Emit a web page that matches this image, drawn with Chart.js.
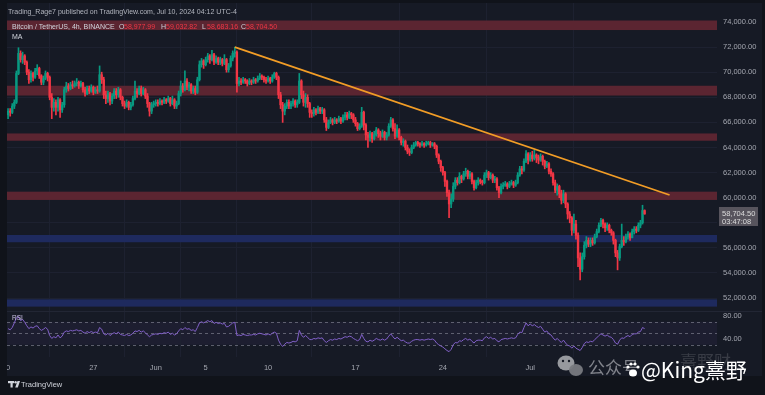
<!DOCTYPE html>
<html><head><meta charset="utf-8">
<script src="https://cdn.jsdelivr.net/npm/chart.js@4.4.1/dist/chart.umd.min.js"></script>
<style>html,body{margin:0;padding:0;background:#10131a;overflow:hidden}#wrap{position:relative;width:765px;height:395px}</style>
</head><body><div id="wrap"><canvas id="c" width="765" height="395"></canvas></div>
<script>
// ---------- DATA (BTC/USDT 4h) ----------
const firstOpen = 66600;
const closes = [
66900,66800,67300,67600,69900,71500,71000,71300,70800,70000,
69400,69900,69600,70100,70300,69700,69200,69500,69900,69600,
68000,67200,67600,67200,67800,67000,67400,68600,68900,68700,
69000,68900,69100,69200,68900,69100,68600,68300,68700,68500,
68800,68400,68600,68500,69800,69400,68200,67900,68300,67700,
68100,68500,68200,68600,68000,67500,67300,67600,67200,67400,
67900,68500,68300,68700,68300,68600,68100,67500,66900,67400,
67500,67600,67500,67700,67600,67800,67700,67900,67500,67800,
67300,67500,68300,68900,68600,69300,68800,69000,68500,68700,
68400,69400,70600,70900,70600,71000,71300,71000,71400,70800,
71100,70800,71000,70700,71000,70200,70500,71100,71500,71600,
69100,69300,69200,69400,69300,69100,69300,69200,69400,69300,
69500,69700,69600,69400,69300,69500,69300,69600,69900,69600,
68200,67400,66900,67300,67600,67300,67500,67700,67400,67600,
69300,68200,67600,68000,67500,66800,66700,67000,66800,67100,
66900,67000,66200,65600,66000,66200,66000,66200,66100,66300,
66100,66400,66600,66400,66700,66600,66200,65900,65500,65700,
66800,65800,65000,64800,65100,64700,65000,65400,65100,64900,
65200,64800,65000,65700,66200,65500,64900,65400,64800,64400,
64500,64000,63700,63600,64000,64200,64400,64300,64200,64300,
64200,64300,64400,64200,64300,64100,63400,62900,62400,62000,
61300,60400,59500,59900,60900,61400,61200,61700,61500,61900,
62100,61700,61900,61300,60800,61200,61400,61300,61200,61800,
62000,61600,61800,61400,61500,60800,60400,60900,61000,61100,
60900,61100,61200,61000,61200,61800,62300,62200,62900,63500,
63000,63400,63100,63400,63200,63000,63300,62900,62500,62700,
62100,61900,61200,60600,60900,60300,59800,60300,59500,58700,
58400,57400,57900,57000,55200,54300,55300,56200,56600,56300,
56600,56400,56900,57300,57800,58200,57900,57600,57800,57400,
57200,56600,55600,55200,56100,56600,56500,56900,57100,56800,
57300,57500,57400,57800,58000,58977.99,58704.50];
const highs = [
67100,67100,67500,67800,70100,71950,71700,71600,71400,70900,
70200,70100,70000,70300,70600,70400,69800,69700,70100,70000,
69700,68300,67900,67800,68000,67900,67600,68800,69200,69100,
69200,69300,69300,69500,69300,69300,69200,68800,68900,68900,
69000,68900,68800,68900,70500,70000,69600,68500,68500,68400,
68300,68700,68700,68800,68700,68100,67700,67800,67700,67600,
68100,69300,68700,68900,68900,68800,68700,68300,67600,67600,
67700,67800,67800,67900,67800,68000,67900,68100,68000,68100,
67900,67700,68500,69300,69100,70100,69500,69200,69100,68900,
68900,69600,70900,71100,71000,71200,71500,71400,71750,71500,
71300,71200,71200,71100,71400,71100,70700,71300,71700,72000,
71700,69600,69500,69600,69500,69400,69500,69400,69600,69500,
69700,69900,69800,69700,69600,69700,69600,69800,70000,70000,
69700,68400,67600,67500,67800,67800,67700,67900,67800,67800,
69900,69400,68500,68300,68200,67600,67000,67200,67100,67300,
67200,67200,67100,66400,66200,66400,66300,66400,66300,66500,
66400,66600,66800,66800,66900,66800,66700,66400,66000,65900,
67200,66900,65900,65200,65300,65200,65300,65600,65500,65300,
65400,65300,65200,65900,66400,66300,65900,65800,65500,64900,
64700,64600,64200,63900,64200,64400,64500,64500,64400,64500,
64400,64500,64500,64500,64400,64400,64200,63500,63000,62500,
62100,61400,60600,60300,61200,61600,61600,62000,61800,62100,
62350,62200,62100,62000,61400,61400,61600,61500,61400,62000,
62200,62100,62000,61900,61700,61600,60900,61100,61200,61300,
61200,61300,61400,61300,61400,62000,62500,62500,63100,63760,
63600,63600,63700,63800,63500,63400,63500,63400,63000,62900,
62800,62300,62000,61400,61100,61000,60600,60600,60400,59600,
58900,58500,58700,58200,57200,55600,55600,56500,56900,56800,
56800,56800,57100,57500,58000,58360,58300,58000,58000,57900,
57500,57300,56700,55800,56300,57900,56900,57100,57300,57200,
57500,57700,57700,58000,58200,59400,59032.82];
const lows = [
66300,66500,66700,67100,67500,69800,70800,70700,70600,69800,
69100,69200,69300,69500,69800,69500,69000,69000,69400,69300,
67800,66300,66900,66600,66900,66400,66800,67200,68400,68500,
68600,68700,68800,68900,68700,68800,68400,68100,68200,68300,
68400,68200,68300,68300,68400,69100,67900,67500,67600,67400,
67500,67900,67900,68000,67800,67300,67100,67200,67000,67000,
67300,67800,68000,68200,68100,68200,67900,67200,66500,66700,
67200,67300,67300,67400,67400,67500,67500,67600,67300,67400,
67100,67100,67400,68100,68400,68500,68600,68500,68300,68300,
68200,68300,69300,70400,70300,70500,70800,70700,70900,70600,
70700,70600,70600,70500,70600,70000,70000,70400,70900,71200,
68400,68900,69000,69100,69100,68900,69000,69000,69100,69100,
69200,69400,69400,69200,69100,69200,69100,69200,69500,69400,
67900,67100,66000,66600,67100,67100,67100,67300,67200,67200,
67500,67900,67300,67200,67200,66400,66400,66500,66600,66700,
66700,66700,66000,65350,65500,65900,65800,65900,65900,66000,
65900,66000,66200,66200,66300,66300,66000,65700,65350,65400,
65600,65400,64600,64000,64500,64400,64600,64900,64800,64600,
64800,64600,64600,64900,65600,65300,64700,64800,64600,64200,
64100,63800,63500,63360,63500,63900,64100,64100,64000,64100,
64000,64100,64200,64000,64100,63900,63200,62700,62100,61800,
60900,60100,58400,59200,59700,60700,61000,61100,61200,61400,
61700,61500,61500,61100,60600,60700,61000,61100,61000,61100,
61600,61400,61500,61200,61200,60600,60000,60300,60700,60900,
60700,60800,61000,60800,60900,61100,61700,61900,62100,62800,
62700,62900,62900,63000,62800,62700,62900,62600,62300,62400,
61900,61700,61000,60400,60200,60000,59500,59600,59200,58300,
58000,57000,57200,56700,54500,53450,54100,55100,56000,56100,
56100,56200,56300,56800,57200,57700,57600,57300,57400,57200,
57000,56300,55300,54250,55000,56000,56200,56400,56700,56600,
56900,57100,57200,57300,57600,57900,58683.16];
const rsiValues = [
58,56,60,68,77,79,72,74,69,63, 58,61,59,62,63,58,55,57,60,57,
46,41,44,42,47,42,45,52,54,53, 55,54,55,56,54,55,52,50,53,51,
53,51,52,51,60,57,49,47,50,46, 49,51,49,52,48,47,46,48,46,47,
50,54,53,55,52,54,51,47,44,47, 48,49,48,50,49,51,50,52,48,50,
47,49,54,58,56,60,57,58,55,56, 53,60,68,70,68,70,72,70,72,67,
69,67,68,66,67,61,62,65,68,69, 46,47,46,48,47,46,47,47,48,47,
49,50,49,48,47,49,47,50,52,50, 38,31,27,31,34,33,34,36,35,37,
55,47,43,46,43,39,39,41,40,42, 41,42,37,34,37,39,38,40,39,41,
40,42,44,43,45,44,41,39,37,39, 48,41,36,35,38,36,38,41,39,38,
40,38,40,45,49,44,40,43,40,37, 38,35,33,33,36,38,39,39,38,39,
38,39,40,39,40,38,33,30,28,26, 23,20,18,22,30,34,33,37,36,39,
41,38,40,36,33,37,38,38,37,42, 44,41,43,40,41,37,35,39,40,41,
40,41,42,41,42,48,52,51,60,68, 63,66,63,65,62,60,62,57,52,54,
49,47,42,38,41,37,34,38,33,29, 28,24,28,24,22,20,25,32,35,34,
36,35,39,42,46,49,47,45,47,44, 43,39,33,31,38,42,41,44,46,44,
48,49,49,52,53,60,58];
const dayTickIdx = [0, 42, 72, 96, 126, 168, 210, 252];
const dayTickLabels = ['20', '27', 'Jun', '5', '10', '17', '24', 'Jul'];
const priceTicks = [52000,54000,56000,58000,60000,62000,64000,66000,68000,70000,72000,74000];
const rsiTicks = [40, 80];
const rsiLevels = [70, 50, 30];
const redBands = [[73360,74120],[68140,68920],[64540,65120],[59820,60480]];
const blueBands = [[56450,57030],[51320,51900]];
const trendline = [{x:110, y:72000},{x:319, y:60220}];
const header = {symbol:'Bitcoin / TetherUS, 4h, BINANCE', o:'58,977.99', h:'59,032.82', l:'58,683.16', c:'58,704.50'};
const countdown = '03:47:08';

// ---------- build ----------
const UP = '#089981', DOWN = '#f23645';
const opens = closes.map((c,k) => k === 0 ? firstOpen : closes[k-1]);
const colors = closes.map((c,k) => c >= opens[k] ? UP : DOWN);
const wickData = closes.map((c,k) => ({x:k+1, y:[lows[k], highs[k]]}));
const bodyData = closes.map((c,k) => ({x:k+1, y:[opens[k], c]}));
const rsiData = rsiValues.map((v,k) => ({x:k+1, y:v}));

const FONT = '"Liberation Sans", Arial, sans-serif';

const deco = {
  id:'deco',
  beforeDraw(chart){
    const {ctx, chartArea:a} = chart;
    ctx.save();
    ctx.fillStyle = '#161a25';
    ctx.fillRect(0,0,765,395);
    const yr = chart.scales.yr;
    ctx.fillStyle = 'rgba(126,87,194,0.07)';
    const t = yr.getPixelForValue(70), b = yr.getPixelForValue(30);
    ctx.fillRect(a.left, t, a.right-a.left, b-t);
    ctx.restore();
  },
  beforeDatasetsDraw(chart){
    const {ctx, chartArea:a} = chart;
    const y = chart.scales.y, yr = chart.scales.yr;
    ctx.save();
    ctx.fillStyle = '#5b2531';
    for (const [lo,hi] of redBands){ const t=y.getPixelForValue(hi), b=y.getPixelForValue(lo); ctx.fillRect(a.left,t,a.right-a.left,b-t); }
    ctx.fillStyle = '#1e2a5e';
    for (const [lo,hi] of blueBands){ const t=y.getPixelForValue(hi), b=y.getPixelForValue(lo); ctx.fillRect(a.left,t,a.right-a.left,b-t); }
    ctx.strokeStyle = 'rgba(150,152,165,0.55)';
    ctx.lineWidth = 1;
    ctx.setLineDash([3,3]);
    for (const v of rsiLevels){ const p = Math.round(yr.getPixelForValue(v))+0.5; ctx.beginPath(); ctx.moveTo(a.left,p); ctx.lineTo(a.right,p); ctx.stroke(); }
    ctx.setLineDash([]);
    ctx.restore();
  },
  afterDraw(chart){
    const {ctx, chartArea:a} = chart;
    const y = chart.scales.y, yr = chart.scales.yr;
    ctx.save();
    // pane separator
    ctx.fillStyle = '#222634';
    ctx.fillRect(a.left, Math.round(yr.top), 765-a.left, 1);
    // frame
    ctx.fillStyle = '#10131a';
    ctx.fillRect(0,0,7,395);
    ctx.fillRect(0,0,765,3);
    ctx.fillRect(762,0,3,395);
    ctx.fillRect(0,376,765,19);
    // header
    ctx.textBaseline = 'middle';
    ctx.font = '7px ' + FONT;
    ctx.fillStyle = '#b2b5be';
    ctx.fillText('Trading_Rage7 published on TradingView.com, Jul 10, 2024 04:12 UTC-4', 8, 12);
    ctx.fillStyle = '#d1d4dc';
    ctx.fillText(header.symbol, 12, 27);
    const parts = [['O',119,header.o],['H',161,header.h],['L',202,header.l],['C',241,header.c]];
    for (const [k,x,v] of parts){
      ctx.fillStyle = '#d1d4dc'; ctx.fillText(k, x, 27);
      ctx.fillStyle = '#f23645'; ctx.fillText(v, x+5, 27);
    }
    ctx.fillStyle = '#d1d4dc';
    ctx.fillText('MA', 12, 37);
    ctx.font = '6.5px ' + FONT;
    ctx.fillStyle = '#c8bfe0';
    ctx.fillText('RSI', 12, 318);
    // last price label
    const ly = y.getPixelForValue(closes[closes.length-1]);
    ctx.fillStyle = '#57545d';
    ctx.fillRect(719, Math.round(ly)-7, 39, 19);
    ctx.fillStyle = '#dcdcdc';
    ctx.font = '7.5px ' + FONT;
    ctx.fillText('58,704.50', 722, ly);
    ctx.fillText(countdown, 722, ly+8);
    // TradingView logo
    ctx.fillStyle = '#d1d4dc';
    ctx.fillRect(8,381,6,2.2);
    ctx.fillRect(10.5,381,2.2,6.5);
    ctx.beginPath(); ctx.arc(15.6,382.2,1.2,0,Math.PI*2); ctx.fill();
    ctx.beginPath(); ctx.moveTo(17.5,381); ctx.lineTo(20,381); ctx.lineTo(17.8,387.5); ctx.lineTo(15.2,387.5); ctx.closePath(); ctx.fill();
    ctx.font = '7.5px ' + FONT;
    ctx.fillText('TradingView', 21, 384.5);
    // watermark
    ctx.fillStyle = 'rgba(165,167,172,0.9)';
    ctx.beginPath(); ctx.ellipse(566,363,8.5,7.5,0,0,Math.PI*2); ctx.fill();
    ctx.fillStyle = 'rgba(120,122,128,0.95)';
    ctx.beginPath(); ctx.ellipse(576,370,7,6,0,0,Math.PI*2); ctx.fill();
    ctx.fillStyle = '#161a25';
    ctx.beginPath(); ctx.arc(563,361,1.2,0,Math.PI*2); ctx.arc(569,361,1.2,0,Math.PI*2); ctx.fill();
    ctx.font = '17px "Noto Sans CJK SC", sans-serif';
    ctx.fillStyle = 'rgba(175,177,182,0.7)';
    ctx.fillText('公众号', 588, 368);
    ctx.fillStyle = 'rgba(120,122,128,0.35)';
    ctx.fillText('熹野财', 680, 362);
    ctx.fillStyle = '#ffffff';
    ctx.beginPath(); ctx.ellipse(633,373,4,3.5,0,0,Math.PI*2); ctx.fill();
    for (const [px,py] of [[628,367],[631,364],[635,364],[638,367]]){ ctx.beginPath(); ctx.arc(px,py,1.6,0,Math.PI*2); ctx.fill(); }
    ctx.font = '21px "Noto Sans CJK SC", sans-serif';
    ctx.fillText('@King熹野', 641, 370);
    ctx.restore();
  }
};

new Chart(document.getElementById('c'), {
  type:'bar',
  data:{datasets:[
    {type:'line', data:trendline, yAxisID:'y', borderColor:'#f29d26', borderWidth:1.7, pointRadius:0, order:0},
    {type:'line', data:rsiData, yAxisID:'yr', borderColor:'#8160c8', borderWidth:1, pointRadius:0, tension:0, order:0},
    {type:'bar', data:bodyData, yAxisID:'y', backgroundColor:colors, barThickness:1.7, grouped:false, minBarLength:1, order:1},
    {type:'bar', data:wickData, yAxisID:'y', backgroundColor:colors, barThickness:1, grouped:false, order:2}
  ]},
  options:{
    responsive:false, animation:false, devicePixelRatio:1, events:[],
    layout:{padding:{left:7, top:3, right:0, bottom:0}},
    plugins:{legend:{display:false}, tooltip:{enabled:false}},
    scales:{
      x:{type:'linear', min:0.48, max:341.8, offset:false, position:'bottom',
         grid:{color:'#1d2130', drawTicks:false}, border:{display:false},
         afterBuildTicks:s => { s.ticks = dayTickIdx.map(v => ({value:v})); },
         afterFit:s => { s.height = 38; s.paddingLeft = 0; s.paddingRight = 0; },
         ticks:{autoSkip:false, maxRotation:0, padding:6, color:'#a3a6af', font:{size:7.5, family:FONT},
                callback:v => dayTickLabels[dayTickIdx.indexOf(v)] ?? ''}},
      y:{type:'linear', position:'right', stack:'pane', stackWeight:308, min:50972, max:75514,
         grid:{color:'#1d2130', drawTicks:false}, border:{display:false},
         afterBuildTicks:s => { s.ticks = priceTicks.map(v => ({value:v})); },
         afterFit:s => { s.width = 48; s.paddingTop = 0; s.paddingBottom = 0; },
         ticks:{autoSkip:false, padding:6, color:'#a3a6af', font:{size:7.5, family:FONT},
                callback:v => v === 58000 ? '' : v.toLocaleString('en-US',{minimumFractionDigits:2, maximumFractionDigits:2})}},
      yr:{type:'linear', position:'right', stack:'pane', stackWeight:46, min:8.7, max:88.7,
         grid:{display:false, drawTicks:false}, border:{display:false},
         afterBuildTicks:s => { s.ticks = rsiTicks.map(v => ({value:v})); },
         afterFit:s => { s.width = 48; s.paddingTop = 0; s.paddingBottom = 0; },
         ticks:{autoSkip:false, padding:6, color:'#a3a6af', font:{size:7.5, family:FONT},
                callback:v => v.toFixed(2)}}
    }
  },
  plugins:[deco]
});
</script>
</body></html>
